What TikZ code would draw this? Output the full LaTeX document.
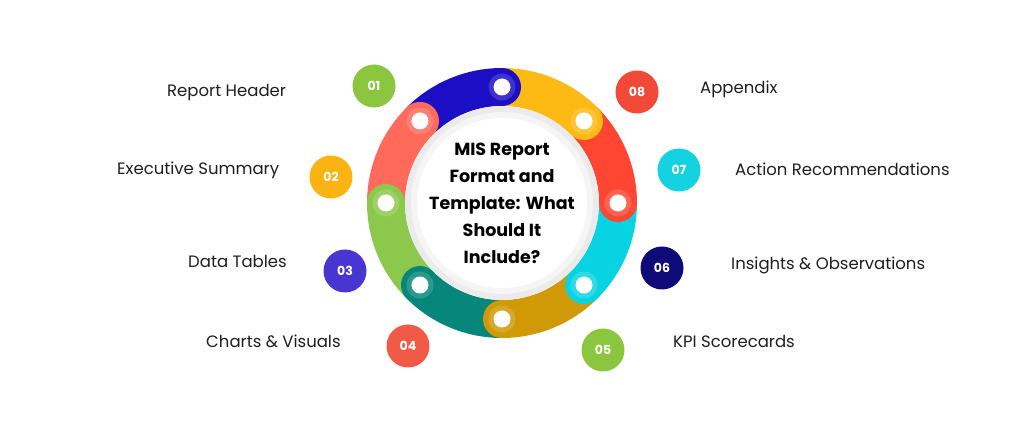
\documentclass[tikz,border=0pt]{standalone}
\usepackage{fontspec}
\setmainfont{Poppins}
\usetikzlibrary{positioning,calc}
% ring colours
\definecolor{segBlue}{HTML}{1C0EC4}
\definecolor{segYellow}{HTML}{FDB914}
\definecolor{segRed}{HTML}{FF4632}
\definecolor{segCyan}{HTML}{08D3E2}
\definecolor{segGold}{HTML}{CF9A06}
\definecolor{segTeal}{HTML}{07877B}
\definecolor{segGreen}{HTML}{8CC84B}
\definecolor{segCoral}{HTML}{FF6A5A}
% badge colours
\definecolor{bdgGreen}{HTML}{8CC63F}
\definecolor{bdgYellow}{HTML}{FBB312}
\definecolor{bdgViolet}{HTML}{4936D2}
\definecolor{bdgCoral}{HTML}{F25A48}
\definecolor{bdgNavy}{HTML}{0E0A78}
\definecolor{bdgCyan}{HTML}{14D2E0}
\definecolor{bdgRed}{HTML}{F24A38}
\definecolor{txtDark}{HTML}{1E1E1E}

\begin{document}
\begin{tikzpicture}[x=1pt,y=1pt,
    badge/.style={circle, minimum size=43pt, inner sep=0pt, text=white,
        font=\bfseries\fontsize{12.5}{12.5}\selectfont},
    itemlabel/.style={anchor=mid west, inner sep=0pt, text=txtDark,
        font=\fontsize{16.5}{16.5}\selectfont}]

\useasboundingbox (0,0) rectangle (1024,427);
\coordinate (ctr) at (502,224);

% Ring segments (start angle / colour), clockwise by 45 degrees
\foreach \a/\c in {135/segBlue, 90/segYellow, 45/segRed, 0/segCyan,
        -45/segGold, -90/segTeal, -135/segGreen, 180/segCoral}
    \draw[line width=38pt, \c] ($(ctr)+(\a:116)$)
        arc[start angle=\a, end angle=\a-45, radius=116];

% Round caps with white dots at the clockwise end of each segment
\foreach \a/\c in {135/segBlue, 90/segYellow, 45/segRed, 0/segCyan,
        -45/segGold, -90/segTeal, -135/segGreen, 180/segCoral} {
    \fill[\c] ($(ctr)+({\a-45}:116)$) circle (19);
    \fill[\c!85!white] ($(ctr)+({\a-45}:116)$) circle (13.5);
    \fill[white] ($(ctr)+({\a-45}:116)$) circle (8.5);
}

% Inner disc
\fill[gray!16] (ctr) circle (97);
\fill[gray!8] (ctr) circle (91);
\fill[white] (ctr) circle (85);

% Title
\node[font=\bfseries\fontsize{17.5}{27}\selectfont, align=center, text=black]
    (title) at (ctr) {MIS Report\\Format and\\Template: What\\Should It\\Include?};

% Number badges
\foreach \n/\x/\y/\c in {01/374/341/bdgGreen, 02/331/250/bdgYellow,
        03/345/156/bdgViolet, 04/408/81/bdgCoral, 05/603/77/bdgGreen,
        06/662/159/bdgNavy, 07/679/257/bdgCyan, 08/637/335/bdgRed}
    \node[badge, fill=\c] (b\n) at (\x,\y) {\n};

% Item labels
\node[itemlabel] (lbl01) at (167,333) {Report Header};
\node[itemlabel] (lbl02) at (117,255) {Executive Summary};
\node[itemlabel] (lbl03) at (188,162) {Data Tables};
\node[itemlabel] (lbl04) at (206,82) {Charts \& Visuals};
\node[itemlabel] (lbl05) at (673,82) {KPI Scorecards};
\node[itemlabel] (lbl06) at (731,160) {Insights \& Observations};
\node[itemlabel] (lbl07) at (735,254) {Action Recommendations};
\node[itemlabel] (lbl08) at (700,336) {Appendix};

\end{tikzpicture}
\end{document}
